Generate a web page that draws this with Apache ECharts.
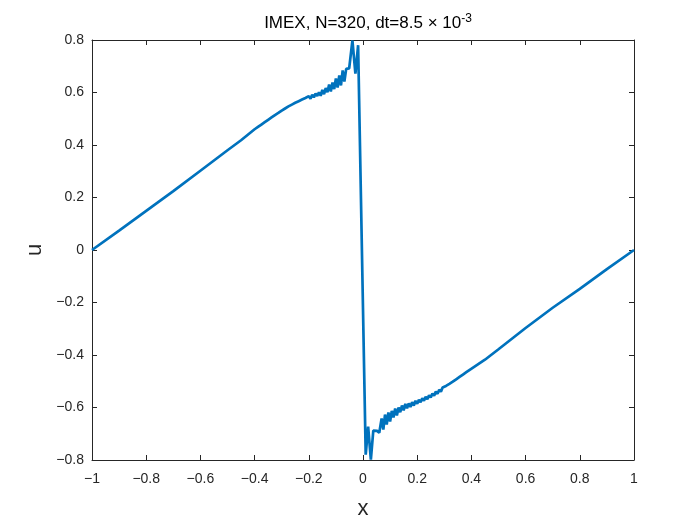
<!DOCTYPE html>
<html>
<head>
<meta charset="utf-8">
<script src="https://cdn.jsdelivr.net/npm/echarts@6/dist/echarts.min.js"></script>
<style>
  html, body { margin: 0; padding: 0; background: #fff; }
  #chart { width: 700px; height: 525px; }
</style>
</head>
<body>
<div id="chart"></div>
<script>
// outer straight part, left side
const leftX = [-1, -0.9, -0.8, -0.7, -0.6, -0.5, -0.45];
const leftU = [0, 0.074, 0.149, 0.224, 0.302, 0.380, 0.418];

// wiggly part before the shock (grid points, dx = 2/320)
const upperX = [-0.4, -0.39375, -0.3875, -0.38125, -0.375, -0.36875, -0.3625, -0.35625, -0.35, -0.34375,
  -0.3375, -0.33125, -0.325, -0.31875, -0.3125, -0.30625, -0.3, -0.29375, -0.2875, -0.28125,
  -0.275, -0.26875, -0.2625, -0.25625, -0.25, -0.24375, -0.2375, -0.23125, -0.225, -0.21875,
  -0.2125, -0.20625, -0.2, -0.19375, -0.1875, -0.18125, -0.175, -0.16875, -0.1625, -0.15625,
  -0.15, -0.14375, -0.1375, -0.13125, -0.125, -0.11875, -0.1125, -0.10625, -0.1, -0.09375,
  -0.0875, -0.08125, -0.075, -0.06875];
const upperU = [0.460, 0.4565, 0.469, 0.4655, 0.478, 0.4745, 0.487, 0.4835, 0.496, 0.4925,
  0.505, 0.5015, 0.514, 0.510, 0.522, 0.518, 0.531, 0.525, 0.539, 0.533,
  0.547, 0.5405, 0.554, 0.5475, 0.561, 0.554, 0.567, 0.560, 0.573, 0.566,
  0.579, 0.572, 0.586, 0.5765, 0.591, 0.5815, 0.596, 0.5865, 0.601, 0.5875,
  0.610, 0.5935, 0.617, 0.601, 0.630, 0.604, 0.638, 0.613, 0.653, 0.619,
  0.665, 0.627, 0.684, 0.642];

// around the shock
const shockX = [-0.062, -0.056, -0.051, -0.039, -0.028, -0.018, 0.010, 0.019, 0.029, 0.038, 0.045, 0.052, 0.060];
const shockU = [0.690, 0.684, 0.692, 0.798, 0.672, 0.780, -0.780, -0.673, -0.799, -0.688, -0.694, -0.689, -0.696];

// wiggly part after the shock
const lowerX = [0.06875, 0.075, 0.08125, 0.0875, 0.09375, 0.1, 0.10625, 0.1125, 0.11875, 0.125,
  0.13125, 0.1375, 0.14375, 0.15, 0.15625, 0.1625, 0.16875, 0.175, 0.18125, 0.1875,
  0.19375, 0.2, 0.20625, 0.2125, 0.21875, 0.225, 0.23125, 0.2375, 0.24375, 0.25,
  0.25625, 0.2625, 0.26875, 0.275, 0.28125, 0.2875, 0.29375, 0.3, 0.30625, 0.3125,
  0.31875, 0.325, 0.33125, 0.3375, 0.34375, 0.35, 0.35625, 0.3625, 0.36875, 0.375,
  0.38125, 0.3875, 0.39375, 0.4];
const lowerU = [-0.642, -0.684, -0.627, -0.665, -0.619, -0.653, -0.613, -0.638, -0.604, -0.630,
  -0.600, -0.618, -0.5925, -0.611, -0.5865, -0.603, -0.5845, -0.598, -0.5795, -0.593,
  -0.5745, -0.586, -0.571, -0.580, -0.565, -0.574, -0.559, -0.568, -0.553, -0.562,
  -0.5465, -0.555, -0.5395, -0.548, -0.532, -0.540, -0.524, -0.530, -0.518, -0.522,
  -0.510, -0.514, -0.5015, -0.505, -0.4925, -0.496, -0.4835, -0.487, -0.4745, -0.478,
  -0.4655, -0.469, -0.4565, -0.460];

// outer straight part, right side
const rightX = [0.45, 0.5, 0.6, 0.7, 0.8, 0.9, 1];
const rightU = [-0.418, -0.378, -0.297, -0.220, -0.148, -0.073, 0];

const allX = [].concat(leftX, upperX, shockX, lowerX, rightX);
const allU = [].concat(leftU, upperU, shockU, lowerU, rightU);
const lineData = allX.map((x, i) => [x, allU[i]]);

const axisColor = '#262626';
const font = '"Liberation Sans", Arial, Helvetica, sans-serif';
// matlab prints a real minus sign on the ticks
const tickFmt = v => String(v).replace('-', '\u2212');

let myChart = echarts.init(document.getElementById('chart'));
myChart.setOption({
    backgroundColor: '#fff',
    animation: false,
    title: {
        text: '{a|IMEX, N=320, dt=8.5 × 10}{sup|-3}',
        left: 363,
        top: 8,
        textAlign: 'center',
        textStyle: {
            fontWeight: 'normal',
            rich: {
                a: { fontFamily: font, fontSize: 17, fontWeight: 'normal', color: '#000' },
                sup: { fontFamily: font, fontSize: 12, fontWeight: 'normal', color: '#000', padding: [0, 0, 9, 0] }
            }
        }
    },
    grid: { left: 92, right: 66, top: 40, bottom: 63 },
    xAxis: [
        {
            type: 'value', min: -1, max: 1, interval: 0.2,
            name: 'x', nameLocation: 'middle', nameGap: 38,
            nameTextStyle: { fontFamily: font, fontSize: 22, color: axisColor },
            axisLine: { onZero: false, lineStyle: { color: axisColor, width: 1 } },
            axisTick: { inside: true, length: 5, lineStyle: { color: axisColor } },
            axisLabel: { fontFamily: font, fontSize: 14, color: axisColor, margin: 12, formatter: tickFmt },
            splitLine: { show: false }
        },
        {
            type: 'value', min: -1, max: 1, interval: 0.2, position: 'top',
            axisLine: { onZero: false, lineStyle: { color: axisColor, width: 1 } },
            axisTick: { inside: true, length: 5, lineStyle: { color: axisColor } },
            axisLabel: { show: false },
            splitLine: { show: false }
        }
    ],
    yAxis: [
        {
            type: 'value', min: -0.8, max: 0.8, interval: 0.2,
            name: 'u', nameLocation: 'middle', nameGap: 43,
            nameTextStyle: { fontFamily: font, fontSize: 22, color: axisColor },
            axisLine: { show: true, onZero: false, lineStyle: { color: axisColor, width: 1 } },
            axisTick: { show: true, inside: true, length: 5, lineStyle: { color: axisColor } },
            axisLabel: { fontFamily: font, fontSize: 14, color: axisColor, margin: 8, formatter: tickFmt },
            splitLine: { show: false }
        },
        {
            type: 'value', min: -0.8, max: 0.8, interval: 0.2, position: 'right',
            axisLine: { show: true, onZero: false, lineStyle: { color: axisColor, width: 1 } },
            axisTick: { show: true, inside: true, length: 5, lineStyle: { color: axisColor } },
            axisLabel: { show: false },
            splitLine: { show: false }
        }
    ],
    series: [
        {
            type: 'line',
            xAxisIndex: 0,
            yAxisIndex: 0,
            data: lineData,
            showSymbol: false,
            lineStyle: { color: '#0072BD', width: 2.7 },
            emphasis: { disabled: true }
        }
    ]
});
</script>
</body>
</html>
